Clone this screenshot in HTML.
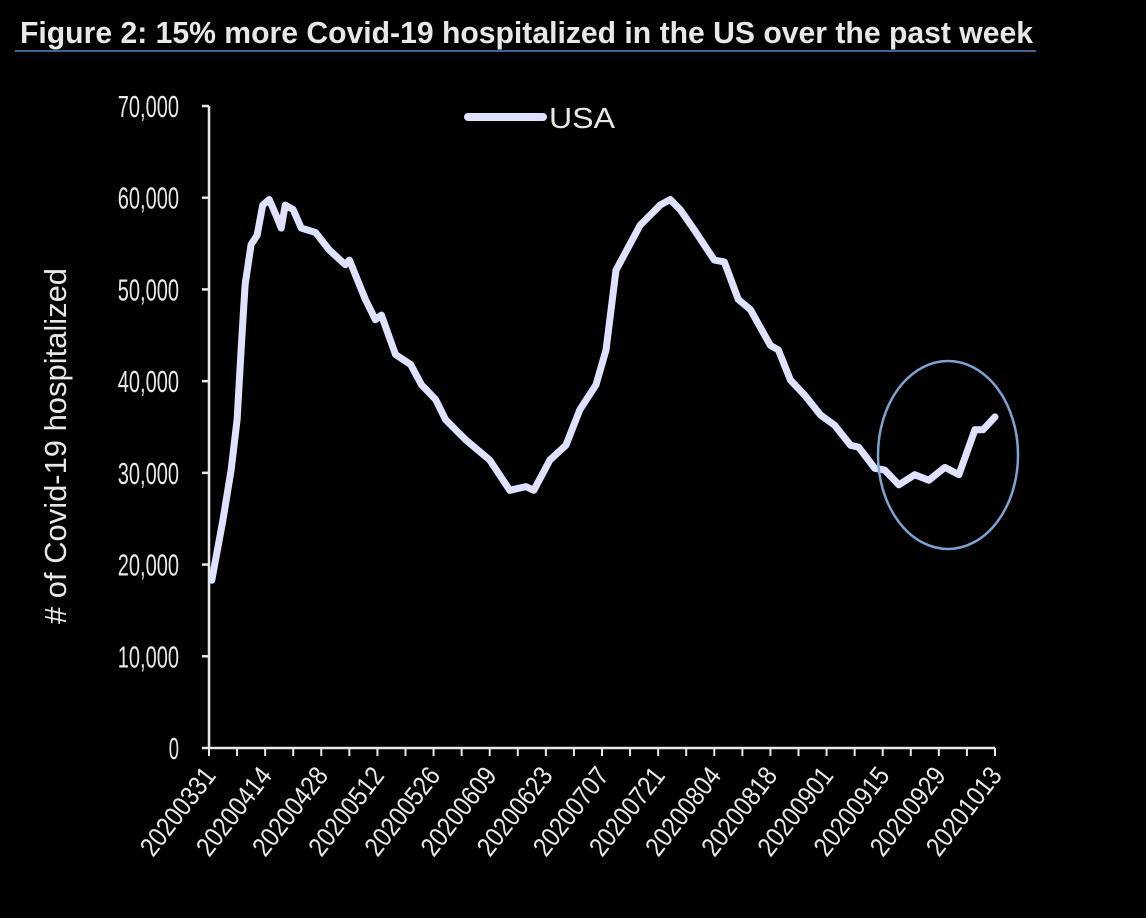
<!DOCTYPE html>
<html><head><meta charset="utf-8"><style>
html,body{margin:0;padding:0;background:#000;}
svg{display:block;}
text{font-family:"Liberation Sans Narrow","Liberation Sans",sans-serif;fill:#e8e8e8;}
</style></head><body>
<svg id="chart" width="1146" height="918" viewBox="0 0 1146 918">
<rect width="1146" height="918" fill="#000"/>
<text x="20" y="43" font-size="31" font-weight="bold" textLength="1013" lengthAdjust="spacingAndGlyphs" fill="#f0f0f0">Figure 2: 15% more Covid-19 hospitalized in the US over the past week</text>
<line x1="15" y1="51" x2="1036" y2="51" stroke="#3d6590" stroke-width="2"/>
<g id="axes"></g>
<g id="series"></g>
<line x1="468" y1="117" x2="543" y2="117" stroke="#dfe2ff" stroke-width="8" stroke-linecap="round"/>
<text x="549" y="128" font-size="29" textLength="66" lengthAdjust="spacingAndGlyphs">USA</text>
<text transform="translate(66,446) rotate(-90)" text-anchor="middle" font-size="31" textLength="356" lengthAdjust="spacingAndGlyphs"># of Covid-19 hospitalized</text>
<ellipse cx="948" cy="455" rx="70" ry="94" fill="none" stroke="#7ba4d2" stroke-width="2.5"/>
</svg>
<script>
const yTicks=[0,10000,20000,30000,40000,50000,60000,70000];
const xLabels=["20200331","20200414","20200428","20200512","20200526","20200609","20200623","20200707","20200721","20200804","20200818","20200901","20200915","20200929","20201013"];
const dayOffsets=[0.7,3.5,5.5,7,8,9,10.5,12,13.4,15,16.7,18,19,21,23,26.6,30,34,35,39,41.5,43,46.5,50.3,53,56.5,59,64,70,75,79,81,85,89,92.5,96.5,99,101.5,107.5,112.5,115,117.5,121,126,128.5,132,135,140,142,145,148.5,152.5,156,160,162,166,168.5,172,176,179.5,183.5,187,191,193,196];
const usaValues=[18300,24900,30300,35800,43400,50500,54900,55900,59200,59800,58100,56700,59200,58700,56700,56200,54300,52700,53200,48900,46700,47200,42900,41800,39600,38000,35800,33600,31400,28100,28500,28100,31400,33000,36900,39600,43400,52100,57000,59200,59800,58700,56500,53200,53000,48900,47800,43900,43400,40100,38500,36300,35200,33000,32800,30500,30300,28700,29800,29200,30600,29800,34700,34700,36100];

const NS="http://www.w3.org/2000/svg";
const x0=209,x1=995,y0=748,y1=106,maxDay=196,maxV=70000;
const xs=d=>x0+(x1-x0)*d/maxDay;
const ys=v=>y0-(y0-y1)*v/maxV;
const axes=document.getElementById('axes'),series=document.getElementById('series');
function mk(tag,attrs,parent){const e=document.createElementNS(NS,tag);for(const k in attrs)e.setAttribute(k,attrs[k]);parent.appendChild(e);return e;}

const ya=mk('line',{x1:x0,y1:y1,x2:x0,y2:y0,stroke:'#e8e8e8','stroke-width':2.5},axes);


const xa=mk('line',{x1:x0,y1:y0,x2:x1,y2:y0,stroke:'#e8e8e8','stroke-width':2.5},axes);



yTicks.forEach(v=>{
  const y=ys(v);
  const t=mk('line',{x1:x0-7,y1:y,x2:x0,y2:y,stroke:'#e8e8e8','stroke-width':2.5},axes);
  
  
  const s=v.toLocaleString('en-US');
  const attrs={x:x0-30,y:y+11,'text-anchor':'end','font-size':31,textLength:s.length*10.2,lengthAdjust:'spacingAndGlyphs'};
  const l=mk('text',attrs,axes);
  l.textContent=s;
  
  
});
for(let w=0;w<=28;w++){
  const x=xs(w*7);
  const t=mk('line',{x1:x,y1:y0,x2:x,y2:y0+8,stroke:'#e8e8e8','stroke-width':2},axes);
  
  
}
xLabels.forEach((s,i)=>{
  const x=xs(i*14);
  const l=mk('text',{transform:`translate(${x+8},${y0+28}) rotate(-52)`,'text-anchor':'end','font-size':27,textLength:104,lengthAdjust:'spacingAndGlyphs'},axes);
  l.textContent=s;
  
  
});
const pts=dayOffsets.map((d,i)=>xs(d).toFixed(1)+','+ys(usaValues[i]).toFixed(1)).join(' ');
const line=mk('polyline',{points:pts,fill:'none',stroke:'#dfe2ff','stroke-width':7,'stroke-linejoin':'round','stroke-linecap':'round'},series);


</script>
</body></html>
